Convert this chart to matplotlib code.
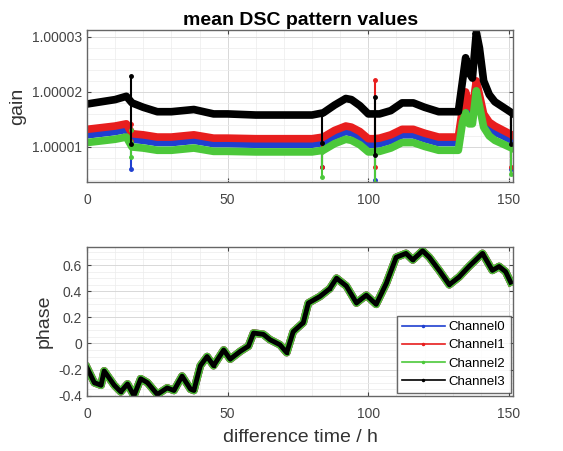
import numpy as np
import matplotlib
matplotlib.use('Agg')
import matplotlib.pyplot as plt
from matplotlib.ticker import FormatStrFormatter, AutoMinorLocator

plt.rcParams['font.family'] = ['Liberation Sans', 'DejaVu Sans']

# gain: offsets from 1 in units of 1e-5
gain_t = [0, 5, 10, 14, 16, 20, 25, 30, 38, 45, 50, 60, 70, 80, 84, 88, 92, 94, 97,
          100, 102, 104, 108, 112, 116, 120, 125, 132, 133.5, 134.6, 135.8, 137,
          138.4, 139.5, 141, 143, 145, 148, 151]
gain_ch3 = [1.78, 1.82, 1.86, 1.92, 1.80, 1.72, 1.64, 1.64, 1.68, 1.60, 1.60, 1.58, 1.58,
            1.58, 1.62, 1.76, 1.88, 1.86, 1.75, 1.60, 1.60, 1.60, 1.66, 1.80, 1.80, 1.72,
            1.64, 1.64, 2.20, 2.62, 2.35, 2.25, 3.08, 2.80, 2.20, 1.95, 1.82, 1.72, 1.62]
gain_ch1 = [1.32, 1.35, 1.38, 1.42, 1.24, 1.22, 1.18, 1.18, 1.22, 1.16, 1.16, 1.15, 1.15,
            1.15, 1.18, 1.30, 1.38, 1.36, 1.28, 1.15, 1.15, 1.16, 1.22, 1.32, 1.32, 1.25,
            1.18, 1.18, 1.70, 2.00, 1.75, 1.70, 2.20, 1.95, 1.60, 1.45, 1.38, 1.30, 1.22]
gain_ch0 = [1.22, 1.25, 1.28, 1.32, 1.14, 1.12, 1.08, 1.08, 1.12, 1.06, 1.06, 1.05, 1.05,
            1.05, 1.08, 1.20, 1.28, 1.26, 1.18, 1.05, 1.05, 1.06, 1.12, 1.22, 1.22, 1.15,
            1.08, 1.08, 1.60, 1.82, 1.55, 1.52, 2.10, 1.85, 1.48, 1.34, 1.27, 1.20, 1.12]
gain_ch2 = [1.08, 1.11, 1.14, 1.18, 1.00, 0.98, 0.94, 0.94, 0.98, 0.92, 0.92, 0.91, 0.91,
            0.91, 0.94, 1.06, 1.14, 1.12, 1.04, 0.91, 0.91, 0.92, 0.98, 1.08, 1.08, 1.01,
            0.94, 0.94, 1.45, 1.62, 1.42, 1.42, 2.02, 1.75, 1.36, 1.20, 1.12, 1.05, 0.98]

# glitches in gain: time, low, high per channel
spike_t = [15.5, 83.6, 102.5, 150.6]
spike_ch0 = [(0.60, 1.30), (0.63, 1.05), (0.40, 1.05), (0.60, 1.12)]
spike_ch1 = [(1.10, 1.42), (0.63, 1.15), (0.63, 2.22), (0.63, 1.22)]
spike_ch2 = [(0.82, 1.30), (0.45, 0.91), (0.35, 0.91), (0.50, 0.98)]
spike_ch3 = [(1.05, 2.28), (1.07, 1.60), (0.85, 1.90), (1.05, 1.62)]

# phase (all channels nearly identical)
phase_t = [0, 2.6, 5, 6.1, 9.7, 12, 14.4, 16.7, 19.1, 21.5, 25, 28.5, 30.9, 33.8, 36.8, 38,
           40.3, 42.7, 45, 48.6, 50.9, 54.5, 57.4, 59.2, 62.7, 65, 68.6, 71, 73.3, 76.9,
           78.7, 82.8, 86.3, 88.7, 92.2, 95.8, 96.9, 99.3, 102.8, 106.4, 109.9, 113.4,
           115.8, 119.3, 121.7, 125.2, 128.8, 132.3, 135.8, 140.6, 144.1, 146.5, 148.8, 150.6]
phase = [-0.185, -0.30, -0.32, -0.21, -0.32, -0.37, -0.31, -0.40, -0.27, -0.30, -0.39,
         -0.34, -0.36, -0.25, -0.35, -0.36, -0.17, -0.10, -0.17, -0.05, -0.12, -0.06,
         -0.02, 0.08, 0.07, 0.03, -0.01, -0.07, 0.09, 0.16, 0.31, 0.36, 0.42, 0.50, 0.44,
         0.31, 0.33, 0.37, 0.30, 0.46, 0.66, 0.69, 0.64, 0.71, 0.66, 0.56, 0.45, 0.51,
         0.59, 0.69, 0.56, 0.59, 0.55, 0.47]

names = ['Channel0', 'Channel1', 'Channel2', 'Channel3']
colors = ['#1f3fd0', '#e81e1e', '#4cc83a', '#000000']
gains = [gain_ch0, gain_ch1, gain_ch2, gain_ch3]
spikes = [spike_ch0, spike_ch1, spike_ch2, spike_ch3]

fig = plt.figure(figsize=(5.63, 4.51), dpi=100)
ax1 = fig.add_axes([0.1545, 0.596, 0.757, 0.337])
ax2 = fig.add_axes([0.1545, 0.1226, 0.757, 0.330])

for g, sp, clr in zip(gains, spikes, colors):
    y = 1 + np.array(g) * 1e-5
    ax1.plot(gain_t, y, color=clr, linewidth=5.5, solid_joinstyle='round')
    for t, (lo, hi) in zip(spike_t, sp):
        ax1.plot([t, t], [1 + lo * 1e-5, 1 + hi * 1e-5], color=clr, linewidth=1.5,
                 marker='o', markersize=2.5)

ax1.set_xlim(0, 151.5)
ax1.set_ylim(1.0000036, 1.0000312)
ax1.set_xticks([0, 50, 100, 150])
ax1.set_yticks([1.00001, 1.00002, 1.00003])
ax1.yaxis.set_major_formatter(FormatStrFormatter('%.5f'))
ax1.set_ylabel('gain', fontsize=14, color='#333333')
ax1.set_title('mean DSC pattern values', fontsize=14, fontweight='bold', pad=4)

# phase: green slightly wider so it shows around the black line
ax2.plot(phase_t, phase, color=colors[0], linewidth=5.5, marker='.', markersize=3,
         label=names[0])
ax2.plot(phase_t, phase, color=colors[1], linewidth=5.5, marker='.', markersize=3,
         label=names[1])
ax2.plot(phase_t, phase, color=colors[2], linewidth=5.5, marker='.', markersize=3,
         label=names[2])
ax2.plot(phase_t, phase, color=colors[3], linewidth=3.5, marker='.', markersize=3,
         label=names[3])
ax2.set_xlim(0, 151.5)
ax2.set_ylim(-0.4, 0.74)
ax2.set_xticks([0, 50, 100, 150])
ax2.set_yticks([-0.4, -0.2, 0, 0.2, 0.4, 0.6])
ax2.set_yticklabels(['-0.4', '-0.2', '0', '0.2', '0.4', '0.6'])
ax2.set_ylabel('phase', fontsize=14, color='#333333')
ax2.set_xlabel('difference time / h', fontsize=14, color='#333333', labelpad=6)

leg = ax2.legend(loc='lower right', fontsize=9.5, handlelength=3.2, borderpad=0.4,
                 labelspacing=0.45, handletextpad=0.3, fancybox=False,
                 borderaxespad=0.2)
leg.get_frame().set_edgecolor('#444444')
leg.get_frame().set_linewidth(1.0)
for h in leg.legend_handles:
    h.set_linewidth(1.2)

for ax in [ax1, ax2]:
    ax.xaxis.set_minor_locator(AutoMinorLocator(5))
    ax.yaxis.set_minor_locator(AutoMinorLocator(5 if ax is ax1 else 4))
    ax.grid(which='major', color='#d8d8d8', linewidth=0.7)
    ax.grid(which='minor', color='#ececec', linewidth=0.5)
    ax.set_axisbelow(True)
    ax.tick_params(direction='in', top=True, right=True, labelsize=10,
                   colors='#444444', length=3)
    ax.tick_params(axis='x', pad=8)
    ax.tick_params(which='minor', length=0)
    for s in ax.spines.values():
        s.set_color('#666666')
        s.set_linewidth(1.0)

plt.savefig('out.png', dpi=100)
plt.close()
